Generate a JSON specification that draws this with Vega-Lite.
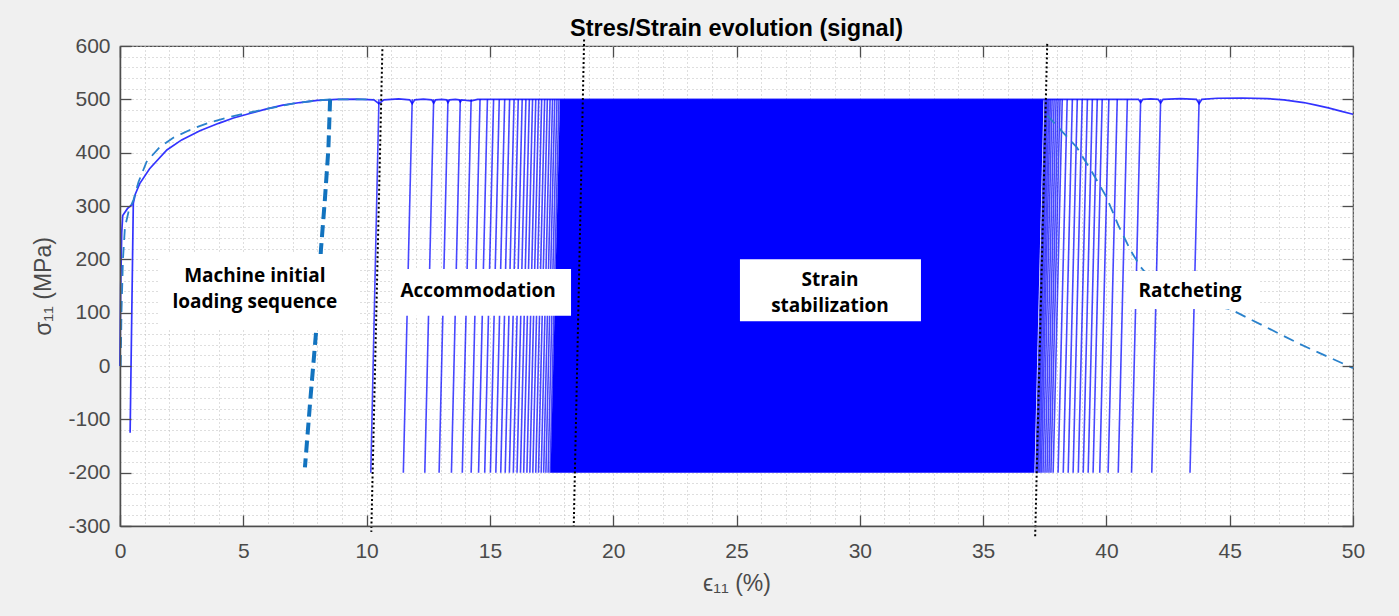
{
  "$schema": "https://vega.github.io/schema/vega-lite/v6.json",
  "width": 1233,
  "height": 480,
  "autosize": {"type": "none"},
  "padding": {"left": 120, "top": 46, "right": 46, "bottom": 90},
  "background": "#f0f0f0",
  "config": {"view": {"fill": "white", "stroke": "#4d4d4d", "strokeWidth": 1.2}},
  "title": {"text": "Stres/Strain evolution (signal)", "font": "Liberation Sans", "fontSize": 23.5, "fontWeight": "bold", "color": "#000000", "anchor": "middle", "frame": "group", "baseline": "alphabetic", "offset": 13, "dy": 37},
  "datasets": {
    "dense": [
      {"s": -200, "lo": 17.46, "hi": 37.08},
      {"s": 500, "lo": 17.84, "hi": 37.45}
    ],
    "cycles": [
      {"top": 10.50, "bot": 10.17, "smax": 500, "smin": -200},
      {"top": 11.85, "bot": 11.49, "smax": 500, "smin": -200},
      {"top": 12.72, "bot": 12.36, "smax": 500, "smin": -200},
      {"top": 13.30, "bot": 12.94, "smax": 500, "smin": -200},
      {"top": 13.80, "bot": 13.44, "smax": 500, "smin": -200},
      {"top": 14.24, "bot": 13.88, "smax": 500, "smin": -200},
      {"top": 14.60, "bot": 14.24, "smax": 500, "smin": -200},
      {"top": 14.90, "bot": 14.54, "smax": 500, "smin": -200},
      {"top": 15.15, "bot": 14.79, "smax": 500, "smin": -200},
      {"top": 15.38, "bot": 15.02, "smax": 500, "smin": -200},
      {"top": 15.60, "bot": 15.24, "smax": 500, "smin": -200},
      {"top": 15.80, "bot": 15.44, "smax": 500, "smin": -200},
      {"top": 15.98, "bot": 15.62, "smax": 500, "smin": -200},
      {"top": 16.15, "bot": 15.79, "smax": 500, "smin": -200},
      {"top": 16.31, "bot": 15.95, "smax": 500, "smin": -200},
      {"top": 16.46, "bot": 16.10, "smax": 500, "smin": -200},
      {"top": 16.60, "bot": 16.24, "smax": 500, "smin": -200},
      {"top": 16.73, "bot": 16.37, "smax": 500, "smin": -200},
      {"top": 16.86, "bot": 16.50, "smax": 500, "smin": -200},
      {"top": 16.98, "bot": 16.62, "smax": 500, "smin": -200},
      {"top": 17.10, "bot": 16.74, "smax": 500, "smin": -200},
      {"top": 17.22, "bot": 16.86, "smax": 500, "smin": -200},
      {"top": 17.33, "bot": 16.97, "smax": 500, "smin": -200},
      {"top": 17.44, "bot": 17.08, "smax": 500, "smin": -200},
      {"top": 17.54, "bot": 17.18, "smax": 500, "smin": -200},
      {"top": 17.63, "bot": 17.27, "smax": 500, "smin": -200},
      {"top": 17.72, "bot": 17.36, "smax": 500, "smin": -200},
      {"top": 17.80, "bot": 17.44, "smax": 500, "smin": -200},
      {"top": 37.51, "bot": 37.14, "smax": 500, "smin": -200},
      {"top": 37.56, "bot": 37.19, "smax": 500, "smin": -200},
      {"top": 37.61, "bot": 37.24, "smax": 500, "smin": -200},
      {"top": 37.67, "bot": 37.30, "smax": 500, "smin": -200},
      {"top": 37.73, "bot": 37.36, "smax": 500, "smin": -200},
      {"top": 37.80, "bot": 37.43, "smax": 500, "smin": -200},
      {"top": 37.88, "bot": 37.51, "smax": 500, "smin": -200},
      {"top": 37.96, "bot": 37.59, "smax": 500, "smin": -200},
      {"top": 38.04, "bot": 37.67, "smax": 500, "smin": -200},
      {"top": 38.12, "bot": 37.75, "smax": 500, "smin": -200},
      {"top": 38.21, "bot": 37.84, "smax": 500, "smin": -200},
      {"top": 38.41, "bot": 38.04, "smax": 500, "smin": -200},
      {"top": 38.62, "bot": 38.25, "smax": 500, "smin": -200},
      {"top": 38.82, "bot": 38.45, "smax": 500, "smin": -200},
      {"top": 39.02, "bot": 38.65, "smax": 500, "smin": -200},
      {"top": 39.23, "bot": 38.86, "smax": 500, "smin": -200},
      {"top": 39.43, "bot": 39.06, "smax": 500, "smin": -200},
      {"top": 39.63, "bot": 39.26, "smax": 500, "smin": -200},
      {"top": 39.83, "bot": 39.46, "smax": 500, "smin": -200},
      {"top": 40.10, "bot": 39.73, "smax": 500, "smin": -200},
      {"top": 40.44, "bot": 40.07, "smax": 500, "smin": -200},
      {"top": 40.85, "bot": 40.48, "smax": 500, "smin": -200},
      {"top": 41.39, "bot": 41.02, "smax": 500, "smin": -200},
      {"top": 42.20, "bot": 41.84, "smax": 500, "smin": -200},
      {"top": 43.76, "bot": 43.39, "smax": 500, "smin": -200}
    ],
    "env": [
      {"i": 1, "e": 0.0, "s": 0},
      {"i": 2, "e": 0.03, "s": 150},
      {"i": 3, "e": 0.07, "s": 250},
      {"i": 4, "e": 0.11, "s": 282},
      {"i": 5, "e": 0.3, "s": 295},
      {"i": 6, "e": 0.54, "s": 305},
      {"i": 7, "e": 0.41, "s": -125},
      {"i": 8, "e": 0.54, "s": 305},
      {"i": 9, "e": 0.62, "s": 322},
      {"i": 10, "e": 0.8, "s": 342},
      {"i": 11, "e": 1.2, "s": 370},
      {"i": 12, "e": 1.9, "s": 405},
      {"i": 13, "e": 2.5, "s": 424},
      {"i": 14, "e": 3.24, "s": 441},
      {"i": 15, "e": 4.0, "s": 455},
      {"i": 16, "e": 4.6, "s": 465},
      {"i": 17, "e": 5.3, "s": 474},
      {"i": 18, "e": 5.95, "s": 482},
      {"i": 19, "e": 6.6, "s": 489},
      {"i": 20, "e": 7.3, "s": 494},
      {"i": 21, "e": 8.0, "s": 498},
      {"i": 22, "e": 8.8, "s": 500},
      {"i": 23, "e": 9.6, "s": 500.5},
      {"i": 24, "e": 10.3, "s": 499},
      {"i": 25, "e": 10.5, "s": 492},
      {"i": 26, "e": 10.7, "s": 499},
      {"i": 27, "e": 11.3, "s": 501},
      {"i": 28, "e": 11.75, "s": 499},
      {"i": 29, "e": 11.85, "s": 492},
      {"i": 30, "e": 11.95, "s": 499},
      {"i": 31, "e": 12.3, "s": 500.5},
      {"i": 32, "e": 12.64, "s": 499},
      {"i": 33, "e": 12.72, "s": 493},
      {"i": 34, "e": 12.8, "s": 499},
      {"i": 35, "e": 13.05, "s": 500},
      {"i": 36, "e": 13.24, "s": 499},
      {"i": 37, "e": 13.3, "s": 494},
      {"i": 38, "e": 13.37, "s": 499},
      {"i": 39, "e": 13.6, "s": 500},
      {"i": 40, "e": 13.75, "s": 499},
      {"i": 41, "e": 13.8, "s": 495},
      {"i": 42, "e": 13.86, "s": 499},
      {"i": 43, "e": 14.24, "s": 497},
      {"i": 44, "e": 14.5, "s": 500},
      {"i": 45, "e": 41.3, "s": 500},
      {"i": 46, "e": 41.39, "s": 494},
      {"i": 47, "e": 41.48, "s": 500},
      {"i": 48, "e": 41.8, "s": 501},
      {"i": 49, "e": 42.1, "s": 500},
      {"i": 50, "e": 42.2, "s": 493},
      {"i": 51, "e": 42.3, "s": 500},
      {"i": 52, "e": 43.0, "s": 501.5},
      {"i": 53, "e": 43.65, "s": 500},
      {"i": 54, "e": 43.76, "s": 492},
      {"i": 55, "e": 43.87, "s": 500},
      {"i": 56, "e": 44.5, "s": 502},
      {"i": 57, "e": 45.5, "s": 502.5},
      {"i": 58, "e": 46.5, "s": 501.5},
      {"i": 59, "e": 47.2, "s": 499},
      {"i": 60, "e": 48.0, "s": 494},
      {"i": 61, "e": 48.5, "s": 489},
      {"i": 62, "e": 49.0, "s": 484},
      {"i": 63, "e": 49.5, "s": 478},
      {"i": 64, "e": 50.0, "s": 472}
    ],
    "dashed": [
      {"path": "A", "i": 1, "e": 0.03, "s": 0},
      {"path": "A", "i": 2, "e": 0.06, "s": 100},
      {"path": "A", "i": 3, "e": 0.12, "s": 200},
      {"path": "A", "i": 4, "e": 0.2, "s": 260},
      {"path": "A", "i": 5, "e": 0.35, "s": 290},
      {"path": "A", "i": 6, "e": 0.55, "s": 312},
      {"path": "A", "i": 7, "e": 0.75, "s": 345},
      {"path": "A", "i": 8, "e": 1.08, "s": 383},
      {"path": "A", "i": 9, "e": 1.6, "s": 410},
      {"path": "A", "i": 10, "e": 2.16, "s": 428},
      {"path": "A", "i": 11, "e": 3.0, "s": 446},
      {"path": "A", "i": 12, "e": 3.65, "s": 457},
      {"path": "A", "i": 13, "e": 4.73, "s": 470},
      {"path": "A", "i": 14, "e": 5.95, "s": 482},
      {"path": "A", "i": 15, "e": 7.0, "s": 492},
      {"path": "A", "i": 16, "e": 8.0, "s": 498},
      {"path": "A", "i": 17, "e": 8.6, "s": 500},
      {"path": "A", "i": 18, "e": 10.3, "s": 500},
      {"path": "C", "i": 1, "e": 37.6, "s": 470},
      {"path": "C", "i": 2, "e": 38.2, "s": 440},
      {"path": "C", "i": 3, "e": 38.8, "s": 410},
      {"path": "C", "i": 4, "e": 39.4, "s": 365},
      {"path": "C", "i": 5, "e": 40.0, "s": 317},
      {"path": "C", "i": 6, "e": 40.5, "s": 262},
      {"path": "C", "i": 7, "e": 41.0, "s": 215},
      {"path": "C", "i": 8, "e": 41.4, "s": 185},
      {"path": "C", "i": 9, "e": 42.0, "s": 152},
      {"path": "C", "i": 10, "e": 43.0, "s": 128},
      {"path": "C", "i": 11, "e": 44.0, "s": 115},
      {"path": "C", "i": 12, "e": 45.0, "s": 107},
      {"path": "C", "i": 13, "e": 47.85, "s": 41},
      {"path": "C", "i": 14, "e": 50.0, "s": -4}
    ],
    "thick": [
      {"i": 1, "e": 8.52, "s": 500},
      {"i": 2, "e": 8.45, "s": 407},
      {"i": 3, "e": 8.31, "s": 313},
      {"i": 4, "e": 8.15, "s": 219},
      {"i": 5, "e": 7.95, "s": 63},
      {"i": 6, "e": 7.72, "s": -62},
      {"i": 7, "e": 7.5, "s": -190}
    ],
    "boxes": [
      {"x1": 1.6, "x2": 9.7, "y1": 70, "y2": 210, "cx": 5.47, "cy": 168.5, "label": "Machine initial\nloading sequence"},
      {"x1": 11.07, "x2": 18.29, "y1": 94, "y2": 182, "cx": 14.52, "cy": 141, "label": "Accommodation"},
      {"x1": 25.14, "x2": 32.48, "y1": 84, "y2": 200, "cx": 28.79, "cy": 161.5, "label": "Strain\nstabilization"},
      {"x1": 40.88, "x2": 46.23, "y1": 107, "y2": 178, "cx": 43.39, "cy": 141, "label": "Ratcheting"}
    ],
    "phases": [
      {"k": 1, "i": 1, "e": 10.64, "s": 594},
      {"k": 1, "i": 2, "e": 10.19, "s": -311},
      {"k": 2, "i": 1, "e": 18.82, "s": 612},
      {"k": 2, "i": 2, "e": 18.40, "s": -300},
      {"k": 3, "i": 1, "e": 37.60, "s": 604},
      {"k": 3, "i": 2, "e": 37.11, "s": -321}
    ]
  },
  "layer": [
    {
      "data": {"name": "dense"},
      "mark": {"type": "area", "orient": "horizontal", "color": "#0000ff"},
      "encoding": {
        "y": {"field": "s", "type": "quantitative", "scale": {"domain": [-300, 600], "nice": false, "zero": false},
          "axis": {"values": [-300,-280,-260,-240,-220,-200,-180,-160,-140,-120,-100,-80,-60,-40,-20,0,20,40,60,80,100,120,140,160,180,200,220,240,260,280,300,320,340,360,380,400,420,440,460,480,500,520,540,560,580,600],
            "grid": true, "gridColor": "#bdbdbd", "gridDash": [1, 3], "gridWidth": 1, "domain": false, "ticks": false, "labels": false, "title": null, "zindex": 0}},
        "x": {"field": "lo", "type": "quantitative", "scale": {"domain": [0, 50], "nice": false, "zero": false},
          "axis": {"values": [0,1,2,3,4,5,6,7,8,9,10,11,12,13,14,15,16,17,18,19,20,21,22,23,24,25,26,27,28,29,30,31,32,33,34,35,36,37,38,39,40,41,42,43,44,45,46,47,48,49,50],
            "grid": true, "gridColor": "#bdbdbd", "gridDash": [1, 3], "gridWidth": 1, "domain": false, "ticks": false, "labels": false, "title": null, "zindex": 0}},
        "x2": {"field": "hi"}
      }
    },
    {
      "data": {"name": "cycles"},
      "mark": {"type": "rule", "color": "#0000ff", "strokeWidth": 1.6, "opacity": 0.72},
      "encoding": {
        "x": {"field": "top", "type": "quantitative", "scale": {"domain": [0, 50], "nice": false, "zero": false},
          "axis": {"orient": "bottom", "values": [0,5,10,15,20,25,30,35,40,45,50], "grid": false, "domain": true, "domainColor": "#4d4d4d", "domainWidth": 1.5,
            "ticks": true, "tickSize": -11, "tickColor": "#4d4d4d", "tickWidth": 1.3,
            "labelFont": "Liberation Sans", "labelFontSize": 21, "labelColor": "#4a4a4a", "labelPadding": 25, "labelFlush": false, "labelOverlap": false, "labelExpr": "'' + datum.value",
            "title": "ϵ₁₁ (%)", "titleFont": "Liberation Sans", "titleFontSize": 23, "titleFontWeight": "normal", "titleColor": "#4a4a4a", "titlePadding": 11, "zindex": 1}},
        "x2": {"field": "bot"},
        "y": {"field": "smax", "type": "quantitative", "scale": {"domain": [-300, 600], "nice": false, "zero": false},
          "axis": {"orient": "left", "values": [-300,-200,-100,0,100,200,300,400,500,600], "grid": false, "domain": true, "domainColor": "#4d4d4d", "domainWidth": 1.5,
            "ticks": true, "tickSize": -11, "tickColor": "#4d4d4d", "tickWidth": 1.3,
            "labelFont": "Liberation Sans", "labelFontSize": 21, "labelColor": "#4a4a4a", "labelPadding": 21, "labelFlush": false, "labelOverlap": false, "labelExpr": "'' + datum.value",
            "title": "σ₁₁ (MPa)", "titleFont": "Liberation Sans", "titleFontSize": 23, "titleFontWeight": "normal", "titleColor": "#4a4a4a", "titlePadding": 12, "zindex": 1}},
        "y2": {"field": "smin"}
      }
    },
    {
      "data": {"name": "env"},
      "mark": {"type": "line", "color": "#0000ff", "strokeWidth": 1.7, "opacity": 0.8},
      "encoding": {
        "x": {"field": "e", "type": "quantitative", "scale": {"domain": [0, 50], "nice": false, "zero": false},
          "axis": {"orient": "top", "values": [0,5,10,15,20,25,30,35,40,45,50], "grid": false, "domain": false, "labels": false,
            "ticks": true, "tickSize": -11, "tickColor": "#4d4d4d", "tickWidth": 1.3, "title": null, "zindex": 1}},
        "y": {"field": "s", "type": "quantitative", "scale": {"domain": [-300, 600], "nice": false, "zero": false},
          "axis": {"orient": "right", "values": [-300,-200,-100,0,100,200,300,400,500,600], "grid": false, "domain": false, "labels": false,
            "ticks": true, "tickSize": -11, "tickColor": "#4d4d4d", "tickWidth": 1.3, "title": null, "zindex": 1}},
        "order": {"field": "i", "type": "quantitative"}
      }
    },
    {
      "data": {"name": "dashed"},
      "mark": {"type": "line", "color": "#2a82cc", "strokeWidth": 1.8, "strokeDash": [11, 7]},
      "encoding": {
        "x": {"field": "e", "type": "quantitative", "axis": null},
        "y": {"field": "s", "type": "quantitative", "axis": null},
        "detail": {"field": "path", "type": "nominal"},
        "order": {"field": "i", "type": "quantitative"}
      }
    },
    {
      "data": {"name": "thick"},
      "mark": {"type": "line", "color": "#1273bf", "strokeWidth": 4, "strokeDash": [12, 6]},
      "encoding": {
        "x": {"field": "e", "type": "quantitative", "axis": null},
        "y": {"field": "s", "type": "quantitative", "axis": null},
        "order": {"field": "i", "type": "quantitative"}
      }
    },
    {
      "data": {"name": "boxes"},
      "mark": {"type": "rect", "color": "white"},
      "encoding": {
        "x": {"field": "x1", "type": "quantitative", "axis": null},
        "x2": {"field": "x2"},
        "y": {"field": "y1", "type": "quantitative", "axis": null},
        "y2": {"field": "y2"}
      }
    },
    {
      "data": {"name": "boxes"},
      "mark": {"type": "text", "font": "Open Sans", "fontWeight": "bold", "fontSize": 19, "lineHeight": 26, "lineBreak": "\n", "align": "center", "baseline": "middle", "color": "#000000"},
      "encoding": {
        "x": {"field": "cx", "type": "quantitative", "axis": null},
        "y": {"field": "cy", "type": "quantitative", "axis": null},
        "text": {"field": "label", "type": "nominal"}
      }
    },
    {
      "data": {"name": "phases"},
      "mark": {"type": "line", "color": "#000000", "strokeWidth": 2, "strokeDash": [2, 2.5]},
      "encoding": {
        "x": {"field": "e", "type": "quantitative", "axis": null},
        "y": {"field": "s", "type": "quantitative", "axis": null},
        "detail": {"field": "k", "type": "nominal"},
        "order": {"field": "i", "type": "quantitative"}
      }
    }
  ],
  "resolve": {"axis": {"x": "independent", "y": "independent"}}
}
